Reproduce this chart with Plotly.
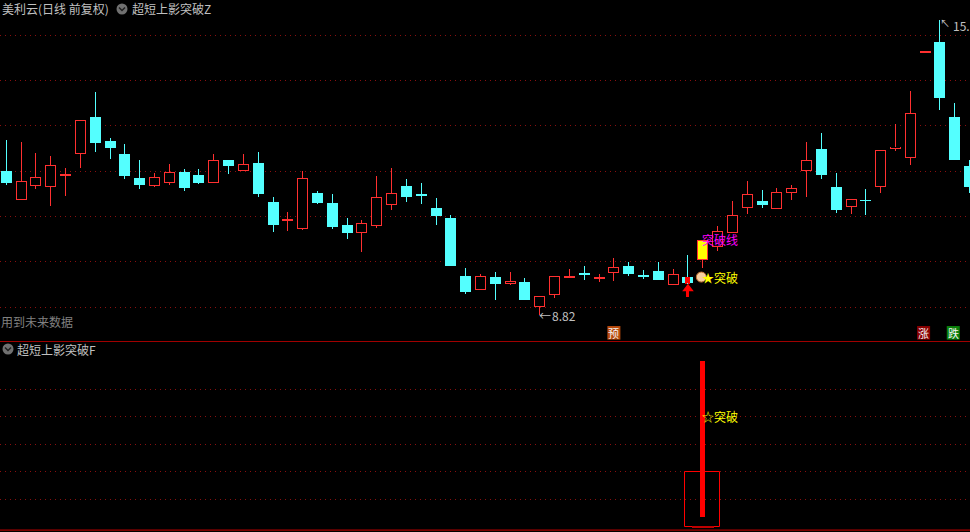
import plotly.graph_objects as go

W, H = 970, 532
FONT = "Noto Sans CJK SC"
RED = "#FF3030"
CYAN = "#54FFFF"
GRID = "#8A0F0F"

# daily candles of the main pane (price)
tops = [12.00,11.79,11.86,12.13,11.93,13.12,13.19,12.66,12.38,11.85,11.86,11.97,11.98,11.91,12.24,12.24,12.15,12.18,11.32,10.94,11.84,11.51,
        11.29,10.81,10.85,11.42,11.51,11.67,11.49,11.18,10.96,9.68,9.68,9.66,9.57,9.55,9.24,9.68,9.68,9.73,9.66,9.88,9.90,9.71,
        9.79,9.72,9.66,10.48,10.67,11.02,11.49,11.34,11.53,11.62,12.24,12.49,11.65,11.38,11.36,12.46,12.54,13.29,14.63,14.85,13.19,12.11]
bottoms = [11.74,11.37,11.68,11.65,11.90,12.38,12.62,12.51,11.89,11.69,11.68,11.74,11.63,11.74,11.74,12.11,11.99,11.49,10.81,10.90,10.73,11.29,
           10.76,10.63,10.64,10.79,11.24,11.43,11.45,11.01,9.90,9.33,9.38,9.51,9.51,9.15,8.99,9.26,9.66,9.71,9.62,9.74,9.73,9.66,
           9.60,9.49,9.53,10.04,10.33,10.64,11.19,11.25,11.17,11.52,11.99,11.91,11.14,11.21,11.34,11.65,12.49,12.29,14.62,13.61,12.24,11.65]
highs = [12.68,12.64,12.40,12.33,12.07,13.12,13.74,12.73,12.60,12.24,11.96,12.15,12.04,12.04,12.38,12.24,12.38,12.42,11.43,11.10,12.00,11.56,
         11.49,10.96,10.92,11.89,12.07,11.82,11.74,11.40,11.03,9.86,9.73,9.77,9.77,9.64,9.24,9.68,9.84,9.90,9.73,10.08,9.99,9.82,
         9.99,9.84,10.15,10.48,10.79,11.34,11.78,11.58,11.63,11.69,12.64,12.84,11.96,11.38,11.60,12.46,13.04,13.76,14.63,15.33,13.50,12.24]
lows = [11.69,11.37,11.60,11.23,11.45,12.07,12.42,12.26,11.82,11.60,11.65,11.69,11.56,11.71,11.74,11.93,11.99,11.43,10.65,10.68,10.70,11.27,
        10.72,10.50,10.21,10.74,11.14,11.32,11.27,10.81,9.90,9.29,9.38,9.15,9.49,9.15,8.82,9.20,9.64,9.60,9.55,9.57,9.68,9.62,
        9.60,9.49,9.51,9.86,10.24,10.64,11.05,11.18,11.17,11.36,11.43,11.82,11.07,11.05,11.03,11.51,12.44,12.13,14.62,13.35,12.24,11.51]
# direction of each candle: 1 rising (red, hollow), 0 falling (cyan, solid)
rising = [0,1,1,1,1,1,0,0,0,0,1,1,0,0,1,0,1,0,0,1,1,0,
          0,0,1,1,1,0,0,0,0,0,1,0,1,0,1,1,1,0,1,1,0,0,
          0,1,0,1,1,1,1,0,1,1,1,0,0,1,0,1,1,1,1,0,0,0]

SIGNAL_DAY = 47
MARKED_DAY = 46
marked_body = (9.51, 9.66)

# lower pane (indicator)
bar_range = (0.36, 6.03)
box_range = (0.0, 2.0)
box_foot = -0.03
base_level = -0.12
upper_grid = [9, 10, 11, 12, 13, 14, 15]
lower_grid = [1, 2, 3, 4, 5]

# px -> axis helpers
x_range = [-0.425, 65.03]
y1_range = [8.25, 15.772]
y2_range = [-0.19, 6.72]
TOP_PANE = 341
LOW_PANE = 342
PX = 14.82            # pixels per day
EDGE = 1 / 45.33      # price per pixel
def fx(px): return px / W
def fy(px): return 1 - px / H

n = len(tops)
days = list(range(n))
fig = go.Figure()

def wick_trace(idx, color):
    xs, ys = [], []
    for i in idx:
        if highs[i] > tops[i]:
            xs += [i, i, None]
            ys += [tops[i], highs[i], None]
        if lows[i] < bottoms[i]:
            xs += [i, i, None]
            ys += [lows[i], bottoms[i], None]
    return go.Scatter(x=xs, y=ys, mode="lines", line=dict(color=color, width=1), hoverinfo="skip", xaxis="x", yaxis="y")

reds = [i for i in days if rising[i]]
cyans = [i for i in days if not rising[i]]
fig.add_trace(wick_trace(reds, RED))
fig.add_trace(wick_trace(cyans, CYAN))

def body_trace(idx, fill, width=11 / PX, inset=0.0):
    keep = [i for i in idx if tops[i] - bottoms[i] > 2 * inset]
    return go.Bar(x=keep, y=[tops[i] - bottoms[i] - 2 * inset for i in keep], base=[bottoms[i] + inset for i in keep], width=width,
                  marker=dict(color=fill, line=dict(width=0)), hoverinfo="skip", xaxis="x", yaxis="y")

fig.add_trace(body_trace(reds, RED))
fig.add_trace(body_trace([i for i in reds if i != SIGNAL_DAY], "#000000", width=9 / PX, inset=EDGE))
fig.add_trace(body_trace(cyans, CYAN))
fig.add_trace(body_trace([SIGNAL_DAY], "#FFFF00", width=9 / PX, inset=EDGE))
fig.add_trace(go.Bar(x=[MARKED_DAY], y=[marked_body[1] - marked_body[0]], base=[marked_body[0]], width=5 / PX,
                     marker=dict(color="#FF0000", line=dict(width=0)), hoverinfo="skip", xaxis="x", yaxis="y"))

# red up arrow below the marked candle
fig.add_trace(go.Scatter(x=[MARKED_DAY, MARKED_DAY], y=[9.38, 9.22], mode="lines", line=dict(color="#FF0000", width=3),
                         hoverinfo="skip", xaxis="x", yaxis="y"))
fig.add_trace(go.Scatter(x=[MARKED_DAY], y=[9.40], mode="markers", marker=dict(symbol="triangle-up", size=10, color="#FF0000", line=dict(width=0)),
                         hoverinfo="skip", xaxis="x", yaxis="y"))
# hand cursor
fig.add_trace(go.Scatter(x=[46.9], y=[9.66], mode="markers", marker=dict(symbol="circle", size=10, color="#F6CFA0", line=dict(color="#C07030", width=1)),
                         hoverinfo="skip", xaxis="x", yaxis="y"))

# lower pane
fig.add_trace(go.Bar(x=[SIGNAL_DAY], y=[box_range[1] - box_range[0]], base=[box_range[0]], width=2.36,
                     marker=dict(color="rgba(0,0,0,0)", line=dict(color="#FF0000", width=1)), hoverinfo="skip", xaxis="x", yaxis="y2"))
fig.add_trace(go.Bar(x=[SIGNAL_DAY], y=[box_range[0] - box_foot], base=[box_foot], width=1.5,
                     marker=dict(color="#C00000", line=dict(width=0)), hoverinfo="skip", xaxis="x", yaxis="y2"))
fig.add_trace(go.Bar(x=[SIGNAL_DAY], y=[bar_range[1] - bar_range[0]], base=[bar_range[0]], width=5 / PX,
                     marker=dict(color="#FF0000", line=dict(width=0)), hoverinfo="skip", xaxis="x", yaxis="y2"))

ann = []
def label(text, x, y, color, yref="y", anchor="left", size=12):
    ann.append(dict(text=text, x=x, y=y, xref="x", yref=yref, xanchor=anchor, yanchor="middle", showarrow=False,
                    borderpad=0, borderwidth=0, font=dict(family=FONT, size=size, color=color)))
def head(text, px, py, color="#C0C0C0", size=12):
    ann.append(dict(text=text, x=fx(px), y=fy(py), xref="paper", yref="paper", xanchor="left", yanchor="middle", showarrow=False,
                    borderpad=0, borderwidth=0, font=dict(family=FONT, size=size, color=color)))

head("美利云(日线 前复权)", 2, 9)
head("超短上影突破Z", 132, 9)
head("超短上影突破F", 17, 349)
head("用到未来数据", 1, 321, color="#808080")

label("突破线", 46.93, 10.48, "#FF00FF")
label("★突破", 46.93, 9.66, "#FFFF00")
label("☆突破", 46.93, 4.0, "#FFFF00", yref="y2")
label("←", 35.95, 8.82, "#C0C0C0", size=12)
label("8.82", 36.85, 8.82, "#C0C0C0")
label("↖", 63.0, 15.28, "#C0C0C0", size=10)
label("15.", 63.9, 15.22, "#C0C0C0")

shapes = []
def badge(text, day, fill):
    half = 6.5 / PX
    shapes.append(dict(type="rect", xref="x", yref="y", x0=day - half, x1=day + half, y0=8.28, y1=8.58, fillcolor=fill, line=dict(width=0), layer="above", opacity=1))
    label(text, day, 8.43, "#F4F4F4", anchor="center", size=11)
badge("预", 41, "#B84A0C")
badge("涨", 61.9, "#8A0000")
badge("跌", 63.9, "#0A800A")

def rule(py, color):
    shapes.append(dict(type="line", xref="paper", yref="paper", x0=0, x1=1, y0=fy(py), y1=fy(py), line=dict(color=color, width=1)))
rule(341.5, "#A00000")
shapes.append(dict(type="line", xref="paper", yref="y2", x0=0, x1=1, y0=base_level, y1=base_level, line=dict(color="#D00000", width=1)))
def icon(cx, cy):
    r = 5.5
    shapes.append(dict(type="circle", xref="paper", yref="paper", x0=fx(cx - r), x1=fx(cx + r), y0=fy(cy + r), y1=fy(cy - r),
                       fillcolor="#707070", line=dict(width=0)))
    path = f"M {fx(cx-3)} {fy(cy-1.5)} L {fx(cx)} {fy(cy+1.5)} L {fx(cx+3)} {fy(cy-1.5)}"
    shapes.append(dict(type="path", xref="paper", yref="paper", path=path, line=dict(color="#202020", width=1.5)))
icon(122, 9)
icon(8, 349)

common_y = dict(showticklabels=False, ticks="", zeroline=False, showline=False, showgrid=True, gridcolor=GRID, griddash="1px,4px", gridwidth=1)
fig.update_layout(
    width=W, height=H, margin=dict(l=0, r=0, t=0, b=0), autosize=False,
    paper_bgcolor="#000000", plot_bgcolor="#000000", showlegend=False, barmode="overlay", bargap=0,
    xaxis=dict(range=x_range, domain=[0, 1], showgrid=False, zeroline=False, showticklabels=False, ticks="", showline=False, fixedrange=True, anchor="y2"),
    yaxis=dict(range=y1_range, domain=[1 - TOP_PANE / H, 1], tickvals=upper_grid, fixedrange=True, **common_y),
    yaxis2=dict(range=y2_range, domain=[0, 1 - LOW_PANE / H], tickvals=lower_grid, fixedrange=True, **common_y),
    annotations=ann, shapes=shapes,
)
fig.write_html("out.html", config=dict(displayModeBar=False),
               post_script="document.body.style.margin='0';document.body.style.background='#000';document.querySelectorAll('.js-line').forEach(function(e){e.style.shapeRendering='crispEdges';});")
